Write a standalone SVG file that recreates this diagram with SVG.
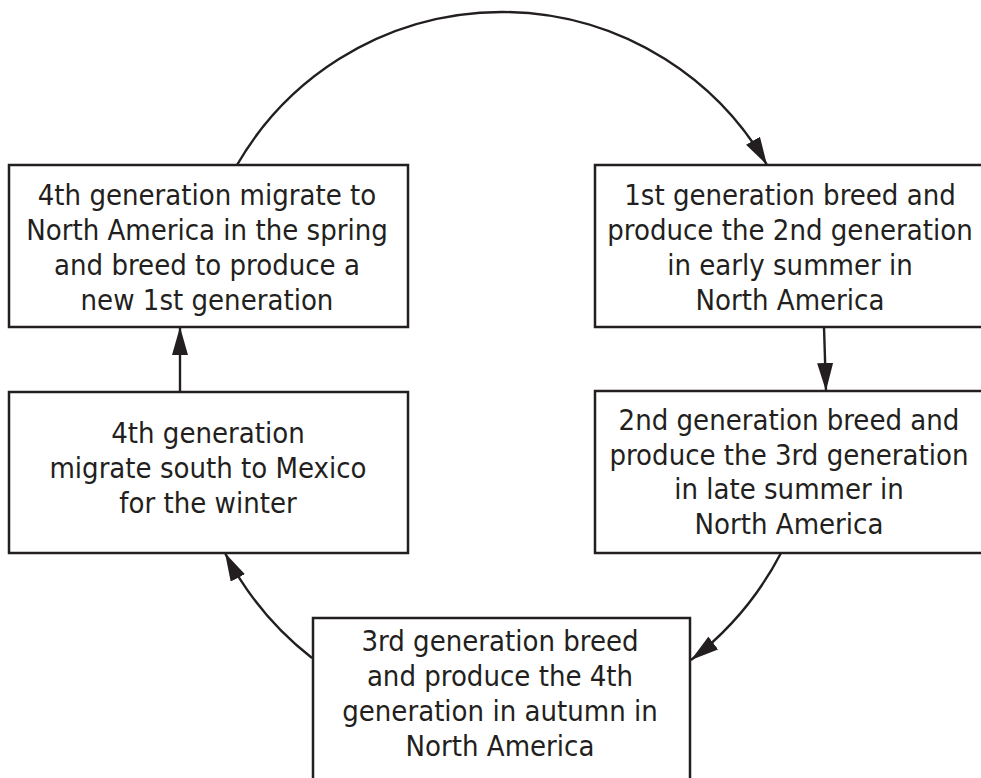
<svg xmlns="http://www.w3.org/2000/svg" width="981" height="778" viewBox="0 0 981 778">
<style>
  .box { fill: #ffffff; stroke: #231f20; stroke-width: 2.5; }
  .lbl { font-family: "DejaVu Sans Condensed", "DejaVu Sans", "Liberation Sans", sans-serif; font-stretch: condensed; font-size: 29px; fill: #231f20; text-anchor: middle; }
  .conn { fill: none; stroke: #231f20; stroke-width: 2.4; }
</style>
<defs>
  <marker id="arrow" viewBox="0 0 28 16" refX="28" refY="8" markerWidth="28" markerHeight="16" markerUnits="userSpaceOnUse" orient="auto">
    <path d="M0,0 L28,8 L0,16 Z" fill="#231f20"/>
  </marker>
</defs>
<rect width="981" height="778" fill="#ffffff"/>
<g id="connectors">
  <path class="conn" d="M237,165 A306,306 0 0 1 767,165" marker-end="url(#arrow)"/>
  <path class="conn" d="M824,327 L826,391" marker-end="url(#arrow)"/>
  <path class="conn" d="M781,553 A321,321 0 0 1 691,660" marker-end="url(#arrow)"/>
  <path class="conn" d="M312,658 A318,318 0 0 1 225,553" marker-end="url(#arrow)"/>
  <path class="conn" d="M180,392 L180,327" marker-end="url(#arrow)"/>
</g>
<g id="node-gen4-spring">
  <rect class="box" x="9" y="165" width="399" height="162"/>
  <text class="lbl" x="207" y="205">4th generation migrate to</text>
  <text class="lbl" x="207" y="240">North America in the spring</text>
  <text class="lbl" x="207" y="275">and breed to produce a</text>
  <text class="lbl" x="207" y="310">new 1st generation</text>
</g>
<g id="node-gen1">
  <rect class="box" x="595" y="165" width="392" height="162"/>
  <text class="lbl" x="790" y="205">1st generation breed and</text>
  <text class="lbl" x="790" y="240">produce the 2nd generation</text>
  <text class="lbl" x="790" y="275">in early summer in</text>
  <text class="lbl" x="790" y="310">North America</text>
</g>
<g id="node-gen2">
  <rect class="box" x="595" y="391" width="392" height="162"/>
  <text class="lbl" x="789" y="430">2nd generation breed and</text>
  <text class="lbl" x="789" y="465">produce the 3rd generation</text>
  <text class="lbl" x="789" y="499">in late summer in</text>
  <text class="lbl" x="789" y="534">North America</text>
</g>
<g id="node-gen3">
  <rect class="box" x="313" y="618" width="377" height="175"/>
  <text class="lbl" x="500" y="651">3rd generation breed</text>
  <text class="lbl" x="500" y="686">and produce the 4th</text>
  <text class="lbl" x="500" y="721">generation in autumn in</text>
  <text class="lbl" x="500" y="756">North America</text>
</g>
<g id="node-gen4-winter">
  <rect class="box" x="9" y="392" width="399" height="161"/>
  <text class="lbl" x="208" y="443">4th generation</text>
  <text class="lbl" x="208" y="478">migrate south to Mexico</text>
  <text class="lbl" x="208" y="513">for the winter</text>
</g>
</svg>
